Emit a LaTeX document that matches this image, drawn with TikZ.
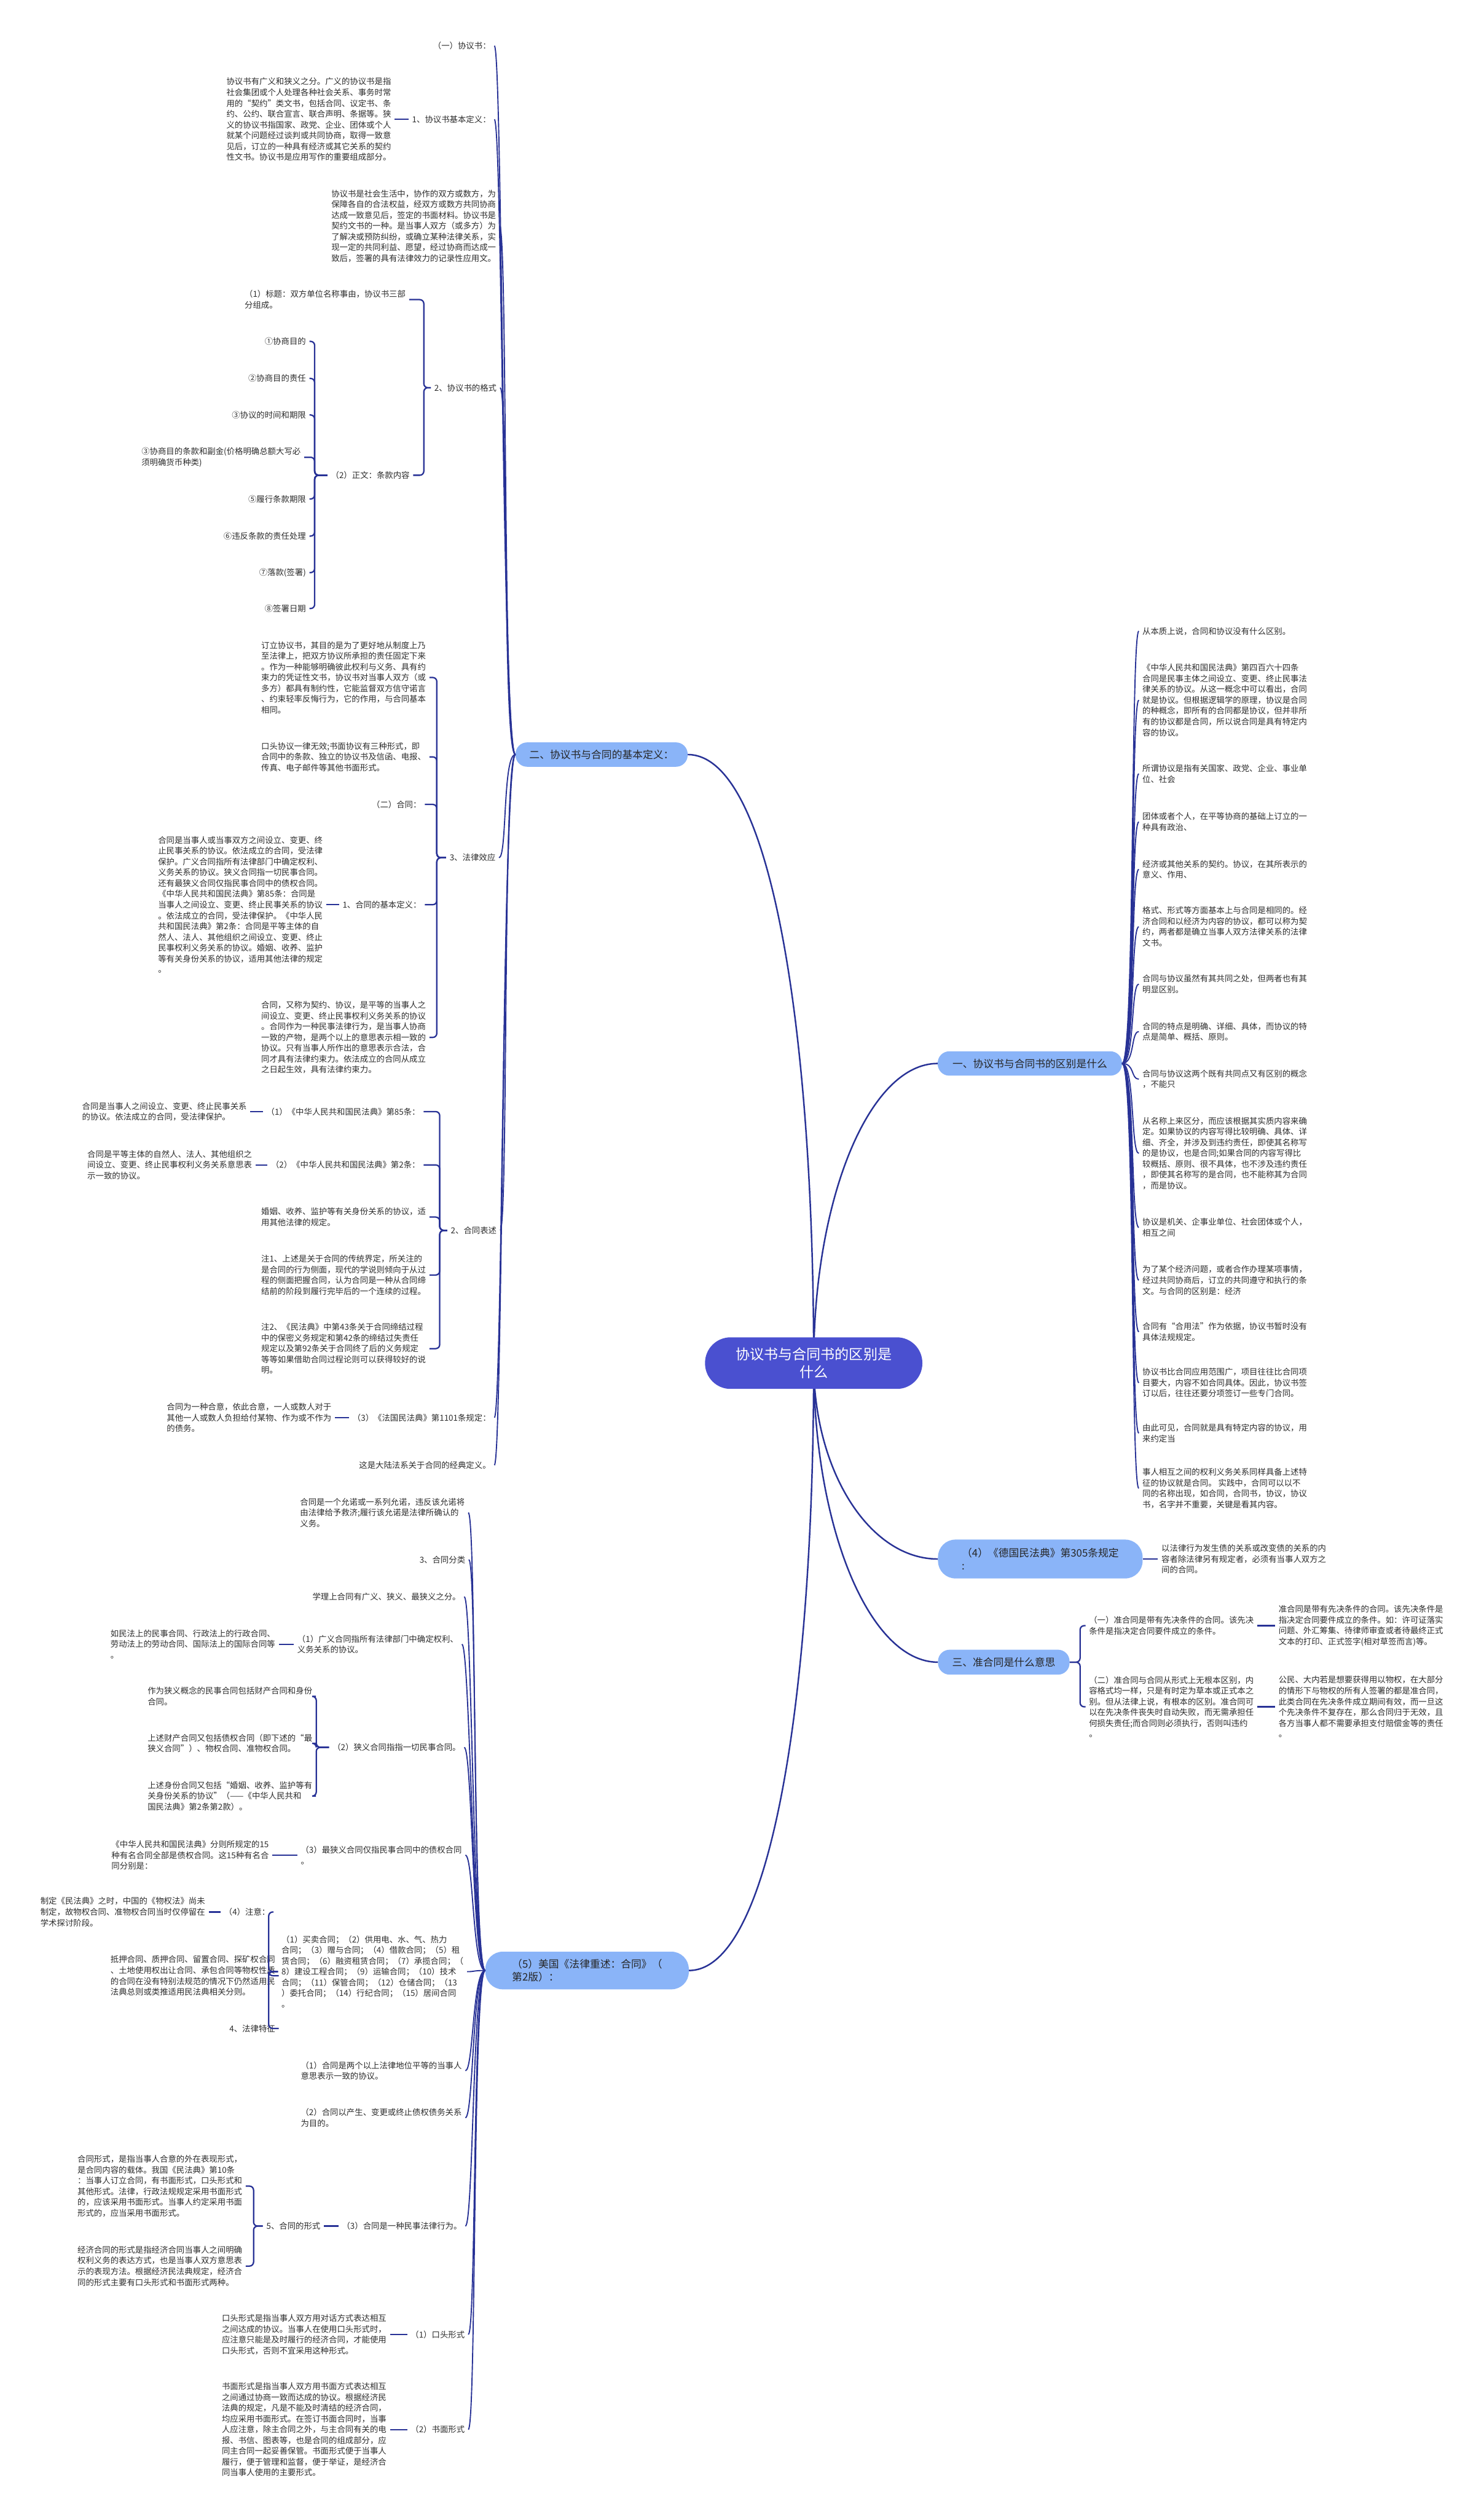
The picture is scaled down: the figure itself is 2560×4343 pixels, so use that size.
\documentclass[tikz,border=0pt]{standalone}
\usepackage{fontspec}
\newfontfamily\cjk{Noto Sans CJK SC}
\usetikzlibrary{backgrounds}

\definecolor{rootfill}{RGB}{74,80,208}
\definecolor{topicfill}{RGB}{138,180,248}
\definecolor{linkcol}{RGB}{40,50,150}
\definecolor{leaftext}{RGB}{45,45,45}

\tikzset{
  leaf/.style={font=\cjk\fontsize{14.2}{18.6}\selectfont, text=leaftext, align=left, inner xsep=6pt, inner ysep=1pt},
  lleaf/.style={leaf, anchor=east},
  rleaf/.style={leaf, anchor=west},
  topic/.style={font=\cjk\fontsize{17.8}{22}\selectfont, text=black!85, fill=topicfill, rounded corners=20pt, align=left, inner sep=0pt},
  root/.style={font=\cjk\fontsize{24.5}{31}\selectfont, text=white, fill=rootfill, rounded corners=44pt, align=center, minimum width=375pt, minimum height=89pt},
  mainlink/.style={draw=linkcol, line width=2.6pt},
  branch/.style={draw=linkcol, line width=2pt},
  link/.style={draw=linkcol, line width=2.4pt, rounded corners=7pt},
}

\begin{document}
\begin{tikzpicture}[x=1pt, y=-1pt]
\begin{scope}[on background layer]
  \fill[white] (0,0) rectangle (2560,4343);
\end{scope}
\useasboundingbox (0,0) rectangle (2560,4343);

% centre and main topics
\node[root] (root) at (1404,2352) {协议书与合同书的区别是\\什么};
\node[topic, minimum width=297pt, minimum height=42pt] (defs) at (1038,1302) {二、协议书与合同的基本定义：};
\node[topic, minimum width=351pt, minimum height=65pt, rounded corners=30pt] (usa) at (1013,3400) {（5）美国《法律重述：合同》（\\第2版）：};
\node[topic, minimum width=318pt, minimum height=42pt] (diffs) at (1777,1835) {一、协议书与合同书的区别是什么};
\node[topic, minimum width=353pt, minimum height=67pt, rounded corners=30pt] (german) at (1795,2690) {（4）《德国民法典》第305条规定\\:};
\node[topic, minimum width=227pt, minimum height=43pt] (quasi) at (1732,2868) {三、准合同是什么意思};

% basic definitions
\node[lleaf] (xys) at (853,79) {（一）协议书：};
\node[lleaf] (xysdef) at (853,206) {1、协议书基本定义：};
\node[lleaf] (xysdeft) at (681,206) {协议书有广义和狭义之分。广义的协议书是指\\社会集团或个人处理各种社会关系、事务时常\\用的“契约”类文书，包括合同、议定书、条\\约、公约、联合宣言、联合声明、条据等。狭\\义的协议书指国家、政党、企业、团体或个人\\就某个问题经过谈判或共同协商，取得一致意\\见后，订立的一种具有经济或其它关系的契约\\性文书。协议书是应用写作的重要组成部分。};
\node[lleaf] (xyslife) at (862,390) {协议书是社会生活中，协作的双方或数方，为\\保障各自的合法权益，经双方或数方共同协商\\达成一致意见后，签定的书面材料。协议书是\\契约文书的一种。是当事人双方（或多方）为\\了解决或预防纠纷，或确立某种法律关系，实\\现一定的共同利益、愿望，经过协商而达成一\\致后，签署的具有法律效力的记录性应用文。};
\node[lleaf] (xysfmt) at (863,669) {2、协议书的格式};
\node[lleaf] (fmttitle) at (706,517) {（1）标题：双方单位名称事由，协议书三部\\分组成。};
\node[lleaf] (fmtbody) at (713,820) {（2）正文：条款内容};
\node[lleaf] (body1) at (534,589) {①协商目的};
\node[lleaf] (body2) at (534,653) {②协商目的责任};
\node[lleaf] (body3) at (534,716) {③协议的时间和期限};
\node[lleaf] (body4) at (525,789) {③协商目的条款和副金(价格明确总额大写必\\须明确货币种类)};
\node[lleaf] (body5) at (534,861) {⑤履行条款期限};
\node[lleaf] (body6) at (534,925) {⑥违反条款的责任处理};
\node[lleaf] (body7) at (534,988) {⑦落款(签署)};
\node[lleaf] (body8) at (534,1050) {⑧签署日期};

\node[lleaf] (effect) at (861,1480) {3、法律效应};
\node[lleaf] (effect1) at (741,1169) {订立协议书，其目的是为了更好地从制度上乃\\至法律上，把双方协议所承担的责任固定下来\\。作为一种能够明确彼此权利与义务、具有约\\束力的凭证性文书，协议书对当事人双方（或\\多方）都具有制约性，它能监督双方信守诺言\\、约束轻率反悔行为，它的作用，与合同基本\\相同。};
\node[lleaf] (effect2) at (741,1306) {口头协议一律无效;书面协议有三种形式，即\\合同中的条款、独立的协议书及信函、电报、\\传真、电子邮件等其他书面形式。};
\node[lleaf] (effect3) at (733,1388) {（二）合同：};
\node[lleaf] (effect4) at (733,1561) {1、合同的基本定义：};
\node[lleaf] (effect4t) at (563,1561) {合同是当事人或当事双方之间设立、变更、终\\止民事关系的协议。依法成立的合同，受法律\\保护。广义合同指所有法律部门中确定权利、\\义务关系的协议。狭义合同指一切民事合同。\\还有最狭义合同仅指民事合同中的债权合同。\\《中华人民共和国民法典》第85条：合同是\\当事人之间设立、变更、终止民事关系的协议\\。依法成立的合同，受法律保护。《中华人民\\共和国民法典》第2条：合同是平等主体的自\\然人、法人、其他组织之间设立、变更、终止\\民事权利义务关系的协议。婚姻、收养、监护\\等有关身份关系的协议，适用其他法律的规定\\。};
\node[lleaf] (effect5) at (741,1790) {合同，又称为契约、协议，是平等的当事人之\\间设立、变更、终止民事权利义务关系的协议\\。合同作为一种民事法律行为，是当事人协商\\一致的产物，是两个以上的意思表示相一致的\\协议。只有当事人所作出的意思表示合法，合\\同才具有法律约束力。依法成立的合同从成立\\之日起生效，具有法律约束力。};

\node[lleaf] (express) at (863,2123) {2、合同表述};
\node[lleaf] (express1) at (731,1918) {（1）《中华人民共和国民法典》第85条：};
\node[lleaf] (express1t) at (432,1918) {合同是当事人之间设立、变更、终止民事关系\\的协议。依法成立的合同，受法律保护。};
\node[lleaf] (express2) at (731,2010) {（2）《中华人民共和国民法典》第2条：};
\node[lleaf] (express2t) at (441,2010) {合同是平等主体的自然人、法人、其他组织之\\间设立、变更、终止民事权利义务关系意思表\\示一致的协议。};
\node[lleaf] (express3) at (741,2100) {婚姻、收养、监护等有关身份关系的协议，适\\用其他法律的规定。};
\node[lleaf] (express4) at (741,2200) {注1、上述是关于合同的传统界定，所关注的\\是合同的行为侧面，现代的学说则倾向于从过\\程的侧面把握合同，认为合同是一种从合同缔\\结前的阶段到履行完毕后的一个连续的过程。};
\node[lleaf] (express5) at (741,2327) {注2、《民法典》中第43条关于合同缔结过程\\中的保密义务规定和第42条的缔结过失责任\\规定以及第92条关于合同终了后的义务规定\\等等如果借助合同过程论则可以获得较好的说\\明。};

\node[lleaf] (french) at (853,2446) {（3）《法国民法典》第1101条规定：};
\node[lleaf] (frencht) at (578,2446) {合同为一种合意，依此合意，一人或数人对于\\其他一人或数人负担给付某物、作为或不作为\\的债务。};
\node[lleaf] (classic) at (853,2528) {这是大陆法系关于合同的经典定义。};

% american restatement
\node[lleaf] (promise) at (808,2610) {合同是一个允诺或一系列允诺，违反该允诺将\\由法律给予救济;履行该允诺是法律所确认的\\义务。};
\node[lleaf] (ctype) at (809,2691) {3、合同分类};
\node[lleaf] (theory) at (801,2755) {学理上合同有广义、狭义、最狭义之分。};
\node[lleaf] (broad) at (797,2837) {（1）广义合同指所有法律部门中确定权利、\\义务关系的协议。};
\node[lleaf] (broadt) at (481,2837) {如民法上的民事合同、行政法上的行政合同、\\劳动法上的劳动合同、国际法上的国际合同等\\。};
\node[lleaf] (narrow) at (801,3015) {（2）狭义合同指指一切民事合同。};
\node[lleaf] (narrow1) at (545,2927) {作为狭义概念的民事合同包括财产合同和身份\\合同。};
\node[lleaf] (narrow2) at (545,3008) {上述财产合同又包括债权合同（即下述的“最\\狭义合同”）、物权合同、准物权合同。};
\node[lleaf] (narrow3) at (545,3099) {上述身份合同又包括“婚姻、收养、监护等有\\关身份关系的协议”（——《中华人民共和\\国民法典》第2条第2款）。};
\node[lleaf] (narrowest) at (803,3201) {（3）最狭义合同仅指民事合同中的债权合同\\。};
\node[lleaf] (narrowestt) at (470,3201) {《中华人民共和国民法典》分则所规定的15\\种有名合同全部是债权合同。这15种有名合\\同分别是：};
\node[lleaf] (fifteen) at (806,3402) {（1）买卖合同；（2）供用电、水、气、热力\\合同；（3）赠与合同；（4）借款合同；（5）租\\赁合同；（6）融资租赁合同；（7）承揽合同；（\\8）建设工程合同；（9）运输合同；（10）技术\\合同；（11）保管合同；（12）仓储合同；（13\\）委托合同；（14）行纪合同；（15）居间合同\\。};
\node[lleaf] (note) at (472,3299) {（4）注意：};
\node[lleaf] (notet) at (360,3299) {制定《民法典》之时，中国的《物权法》尚未\\制定，故物权合同、准物权合同当时仅停留在\\学术探讨阶段。};
\node[lleaf] (realright) at (481,3409) {抵押合同、质押合同、留置合同、探矿权合同\\、土地使用权出让合同、承包合同等物权性质\\的合同在没有特别法规范的情况下仍然适用民\\法典总则或类推适用民法典相关分则。};
\node[lleaf] (feature) at (481,3500) {4、法律特征};
\node[lleaf] (feat1) at (803,3573) {（1）合同是两个以上法律地位平等的当事人\\意思表示一致的协议。};
\node[lleaf] (feat2) at (803,3654) {（2）合同以产生、变更或终止债权债务关系\\为目的。};
\node[lleaf] (feat3) at (803,3841) {（3）合同是一种民事法律行为。};
\node[lleaf] (form) at (559,3841) {5、合同的形式};
\node[lleaf] (form1) at (424,3772) {合同形式，是指当事人合意的外在表现形式，\\是合同内容的载体。我国《民法典》第10条\\：当事人订立合同，有书面形式，口头形式和\\其他形式。法律，行政法规规定采用书面形式\\的，应该采用书面形式。当事人约定采用书面\\形式的，应当采用书面形式。};
\node[lleaf] (form2) at (424,3910) {经济合同的形式是指经济合同当事人之间明确\\权利义务的表达方式，也是当事人双方意思表\\示的表现方法。根据经济民法典规定，经济合\\同的形式主要有口头形式和书面形式两种。};
\node[lleaf] (oral) at (808,4028) {（1）口头形式};
\node[lleaf] (oralt) at (673,4028) {口头形式是指当事人双方用对话方式表达相互\\之间达成的协议。当事人在使用口头形式时，\\应注意只能是及时履行的经济合同，才能使用\\口头形式，否则不宜采用这种形式。};
\node[lleaf] (written) at (808,4192) {（2）书面形式};
\node[lleaf] (writtent) at (673,4192) {书面形式是指当事人双方用书面方式表达相互\\之间通过协商一致而达成的协议。根据经济民\\法典的规定，凡是不能及时清结的经济合同，\\均应采用书面形式。在签订书面合同时，当事\\人应注意，除主合同之外，与主合同有关的电\\报、书信、图表等，也是合同的组成部分，应\\同主合同一起妥善保管。书面形式便于当事人\\履行，便于管理和监督，便于举证，是经济合\\同当事人使用的主要形式。};

% differences
\node[rleaf] (diff1) at (1965,1089) {从本质上说，合同和协议没有什么区别。};
\node[rleaf] (diff2) at (1965,1208) {《中华人民共和国民法典》第四百六十四条\\合同是民事主体之间设立、变更、终止民事法\\律关系的协议。从这一概念中可以看出，合同\\就是协议。但根据逻辑学的原理，协议是合同\\的种概念，即所有的合同都是协议，但并非所\\有的协议都是合同，所以说合同是具有特定内\\容的协议。};
\node[rleaf] (diff3) at (1965,1335) {所谓协议是指有关国家、政党、企业、事业单\\位、社会};
\node[rleaf] (diff4) at (1965,1418) {团体或者个人，在平等协商的基础上订立的一\\种具有政治、};
\node[rleaf] (diff5) at (1965,1500) {经济或其他关系的契约。协议，在其所表示的\\意义、作用、};
\node[rleaf] (diff6) at (1965,1599) {格式、形式等方面基本上与合同是相同的。经\\济合同和以经济为内容的协议，都可以称为契\\约，两者都是确立当事人双方法律关系的法律\\文书。};
\node[rleaf] (diff7) at (1965,1698) {合同与协议虽然有其共同之处，但两者也有其\\明显区别。};
\node[rleaf] (diff8) at (1965,1780) {合同的特点是明确、详细、具体，而协议的特\\点是简单、概括、原则。};
\node[rleaf] (diff9) at (1965,1862) {合同与协议这两个既有共同点又有区别的概念\\，不能只};
\node[rleaf] (diff10) at (1965,1990) {从名称上来区分，而应该根据其实质内容来确\\定。如果协议的内容写得比较明确、具体、详\\细、齐全，并涉及到违约责任，即使其名称写\\的是协议，也是合同;如果合同的内容写得比\\较概括、原则、很不具体，也不涉及违约责任\\，即使其名称写的是合同，也不能称其为合同\\，而是协议。};
\node[rleaf] (diff11) at (1965,2118) {协议是机关、企事业单位、社会团体或个人，\\相互之间};
\node[rleaf] (diff12) at (1965,2209) {为了某个经济问题，或者合作办理某项事情，\\经过共同协商后，订立的共同遵守和执行的条\\文。与合同的区别是：经济};
\node[rleaf] (diff13) at (1965,2298) {合同有“合用法”作为依据，协议书暂时没有\\具体法规规定。};
\node[rleaf] (diff14) at (1965,2386) {协议书比合同应用范围广，项目往往比合同项\\目要大，内容不如合同具体。因此，协议书签\\订以后，往往还要分项签订一些专门合同。};
\node[rleaf] (diff15) at (1965,2473) {由此可见，合同就是具有特定内容的协议，用\\来约定当};
\node[rleaf] (diff16) at (1965,2568) {事人相互之间的权利义务关系同样具备上述特\\征的协议就是合同。 实践中，合同可以以不\\同的名称出现，如合同，合同书，协议，协议\\书，名字并不重要，关键是看其内容。};

\node[rleaf] (germant) at (1998,2690) {以法律行为发生债的关系或改变债的关系的内\\容者除法律另有规定者，必须有当事人双方之\\间的合同。};

\node[rleaf] (quasi1) at (1873,2805) {（一）准合同是带有先决条件的合同。该先决\\条件是指决定合同要件成立的条件。};
\node[rleaf] (quasi1t) at (2200,2805) {准合同是带有先决条件的合同。该先决条件是\\指决定合同要件成立的条件。如：许可证落实\\问题、外汇筹集、待律师审查或者待最终正式\\文本的打印、正式签字(相对草签而言)等。};
\node[rleaf] (quasi2) at (1873,2945) {（二）准合同与合同从形式上无根本区别，内\\容格式均一样，只是有时定为草本或正式本之\\别。但从法律上说，有根本的区别。准合同可\\以在先决条件丧失时自动失败，而无需承担任\\何损失责任;而合同则必须执行，否则叫违约\\。};
\node[rleaf] (quasi2t) at (2200,2945) {公民、大内若是想要获得用以物权，在大部分\\的情形下与物权的所有人签署的都是准合同，\\此类合同在先决条件成立期间有效，而一旦这\\个先决条件不复存在，那么合同归于无效，且\\各方当事人都不需要承担支付赔偿金等的责任\\。};

\begin{scope}[on background layer]
  % centre to topics
  \draw[mainlink] (root.center) .. controls (1404,1775) and (1330,1302) .. (defs.east);
  \draw[mainlink] (root.center) .. controls (1404,2928) and (1330,3400) .. (usa.east);
  \draw[mainlink] (root.center) .. controls (1404,2068) and (1500,1835) .. (diffs.west);
  \draw[mainlink] (root.center) .. controls (1404,2538) and (1500,2690) .. (german.west);
  \draw[mainlink] (root.center) .. controls (1404,2635) and (1500,2868) .. (quasi.west);
\end{scope}

% topic branches
\foreach \c in {xys,xysdef,xyslife,xysfmt,effect,express,french,classic}
  \draw[branch] (defs.west) .. controls +(-22,0) and +(14,0) .. (\c.east);
\foreach \c in {promise,ctype,theory,broad,narrow,narrowest,fifteen,feat1,feat2,feat3,oral,written}
  \draw[branch] (usa.west) .. controls +(-22,0) and +(14,0) .. (\c.east);
\foreach \i in {1,...,16}
  \draw[branch] (diffs.east) .. controls +(22,0) and +(-14,0) .. (diff\i.west);

% brackets
\foreach \c in {fmttitle,fmtbody} \draw[link] (xysfmt.west) -- ++(-12,0) |- (\c.east);
\foreach \c in {body1,body2,body3,body4,body5,body6,body7,body8} \draw[link] (fmtbody.west) -- ++(-22,0) |- (\c.east);
\foreach \c in {effect1,effect2,effect3,effect4,effect5} \draw[link] (effect.west) -- ++(-16,0) |- (\c.east);
\foreach \c in {express1,express2,express3,express4,express5} \draw[link] (express.west) -- ++(-13,0) |- (\c.east);
\foreach \c in {narrow1,narrow2,narrow3} \draw[link] (narrow.west) -- ++(-22,0) |- (\c.east);
\foreach \c in {note,realright,feature} \draw[link] (fifteen.west) -- ++(-16,0) |- (\c.east);
\foreach \c in {form1,form2} \draw[link] (form.west) -- ++(-16,0) |- (\c.east);
\foreach \c in {quasi1,quasi2} \draw[link] (quasi.east) -- ++(18,0) |- (\c.west);

% single links
\draw[link] (xysdef.west) -- (xysdeft.east);
\draw[link] (effect4.west) -- (effect4t.east);
\draw[link] (express1.west) -- (express1t.east);
\draw[link] (express2.west) -- (express2t.east);
\draw[link] (french.west) -- (frencht.east);
\draw[link] (broad.west) -- (broadt.east);
\draw[link] (narrowest.west) -- (narrowestt.east);
\draw[link] (note.west) -- (notet.east);
\draw[link] (feat3.west) -- (form.east);
\draw[link] (oral.west) -- (oralt.east);
\draw[link] (written.west) -- (writtent.east);
\draw[link] (german.east) -- (germant.west);
\draw[link] (quasi1.east) -- (quasi1t.west);
\draw[link] (quasi2.east) -- (quasi2t.west);
\end{tikzpicture}
\end{document}
